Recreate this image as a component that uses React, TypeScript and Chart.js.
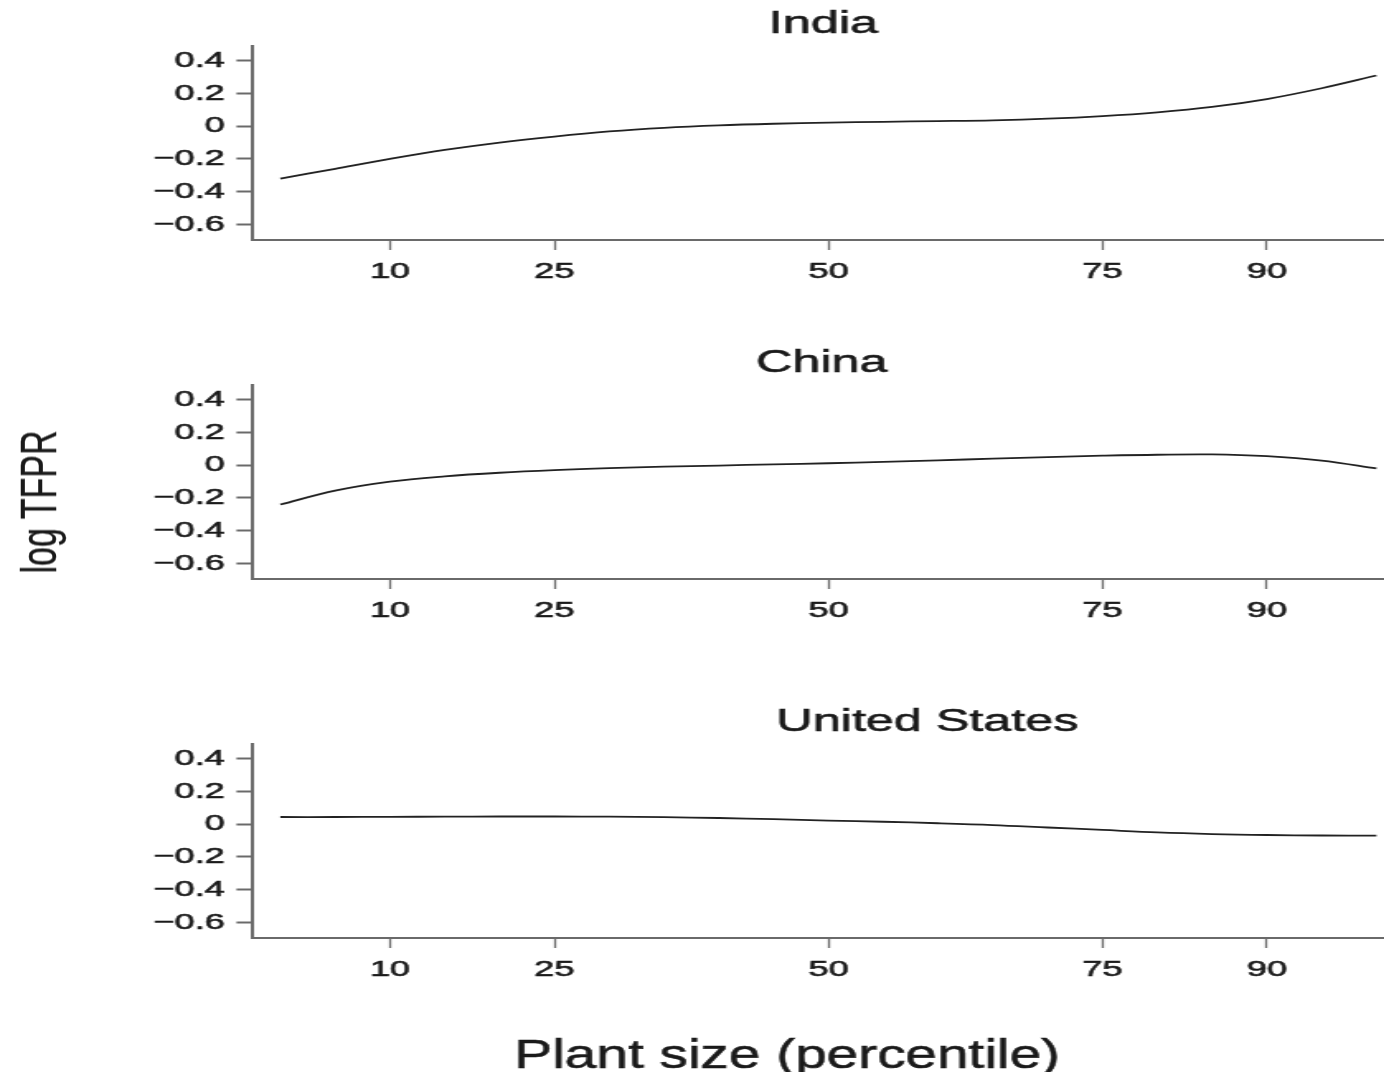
import React, { useEffect, useRef } from "react";
import { Chart, registerables } from "chart.js";

Chart.register(...registerables);

// ---------------- data ----------------
const percentiles = [0, 5, 10, 15, 20, 25, 30, 35, 40, 45, 50, 55, 60, 65, 70, 75, 80, 85, 90, 95, 100];

const india = [-0.32, -0.26, -0.2, -0.145, -0.1, -0.063, -0.032, -0.01, 0.005, 0.015, 0.022, 0.027, 0.031, 0.036, 0.046, 0.062, 0.085, 0.118, 0.166, 0.232, 0.31];
const china = [-0.24, -0.155, -0.1, -0.068, -0.046, -0.03, -0.018, -0.009, -0.002, 0.005, 0.012, 0.02, 0.03, 0.04, 0.05, 0.058, 0.064, 0.066, 0.055, 0.028, -0.02];
const unitedStates = [0.044, 0.044, 0.045, 0.046, 0.047, 0.047, 0.046, 0.043, 0.038, 0.031, 0.022, 0.015, 0.006, -0.005, -0.02, -0.035, -0.05, -0.06, -0.066, -0.069, -0.07];

const panelTitles = ["India", "China", "United States"];
const xTickValues = [10, 25, 50, 75, 90];
const xTickLabels = ["10", "25", "50", "75", "90"];
const yTickValues = [-0.6, -0.4, -0.2, 0, 0.2, 0.4];
const yTickLabels = ["\u22120.6", "\u22120.4", "\u22120.2", "0", "0.2", "0.4"];
const xTitle = "Plant size (percentile)";
const yTitle = "log TFPR";

// ---------------- layout ----------------
const S = 1.65; // horizontal stretch of the canvases (extended type look)
const CW = 845; // internal canvas width
const FAMILY = "'Liberation Sans', Arial, Helvetica, sans-serif";
const AXIS = "#6a6a6a";
const INK = "#1a1a1a";

type TextItem = { text: string; size: number; baseline: number; offsetX: number; scaleX: number };

function makeTextPlugin(items: TextItem[]) {
  return {
    id: "panelTexts",
    afterDraw(chart: any) {
      const { ctx, chartArea } = chart;
      const cx = (chartArea.left + chartArea.right) / 2;
      items.forEach((it) => {
        ctx.save();
        ctx.fillStyle = INK;
        ctx.strokeStyle = INK;
        ctx.lineWidth = 0.6;
        ctx.font = `${it.size}px ${FAMILY}`;
        ctx.textAlign = "center";
        ctx.textBaseline = "alphabetic";
        ctx.translate(cx + it.offsetX, it.baseline);
        ctx.scale(it.scaleX, 1);
        ctx.fillText(it.text, 0, 0);
        ctx.strokeText(it.text, 0, 0);
        ctx.restore();
      });
    },
  };
}

function Panel(props: { values: number[]; top: number; height: number; texts: TextItem[] }) {
  const ref = useRef<HTMLCanvasElement>(null);
  useEffect(() => {
    const canvas = ref.current;
    if (!canvas) return;
    const chart = new Chart(canvas, {
      type: "line",
      data: {
        datasets: [
          {
            data: percentiles.map((p, i) => ({ x: p, y: props.values[i] })),
            borderColor: "#222",
            borderWidth: 1.8,
            pointRadius: 0,
            tension: 0.35,
            fill: false,
          },
        ],
      },
      options: {
        animation: false,
        responsive: false,
        devicePixelRatio: 1,
        layout: { padding: { top: 46, left: 0, right: 0, bottom: 0 } },
        plugins: { legend: { display: false }, tooltip: { enabled: false }, title: { display: false } },
        scales: {
          x: {
            type: "linear",
            min: -2.497,
            max: 101.6,
            afterBuildTicks: (s: any) => {
              s.ticks = xTickValues.map((v) => ({ value: v }));
            },
            afterFit: (s: any) => {
              s.height = props.height - 240;
            },
            ticks: {
              callback: (_v: any, i: number) => xTickLabels[i],
              font: { size: 22, family: FAMILY },
              color: INK,
              textStrokeColor: INK,
              textStrokeWidth: 0.6,
              padding: 9,
              maxRotation: 0,
              autoSkip: false,
            },
            grid: { drawOnChartArea: false, drawTicks: true, tickLength: 10, tickColor: AXIS, tickWidth: 1.3 },
            border: { display: true, color: AXIS, width: 2 },
          },
          y: {
            type: "linear",
            min: -0.695,
            max: 0.49,
            afterBuildTicks: (s: any) => {
              s.ticks = yTickValues.map((v) => ({ value: v }));
            },
            afterFit: (s: any) => {
              s.width = 253 / S;
            },
            ticks: {
              callback: (_v: any, i: number) => yTickLabels[i],
              font: { size: 22, family: FAMILY },
              color: INK,
              textStrokeColor: INK,
              textStrokeWidth: 0.6,
              padding: 7,
              autoSkip: false,
            },
            grid: { drawOnChartArea: false, drawTicks: true, tickLength: 10, tickColor: AXIS, tickWidth: 2 },
            border: { display: true, color: AXIS, width: 2 },
          },
        },
      },
      plugins: [makeTextPlugin(props.texts)],
    } as any);
    return () => chart.destroy();
  }, []);
  return (
    <canvas
      ref={ref}
      width={CW}
      height={props.height}
      style={{ position: "absolute", left: 0, top: props.top, width: `${CW * S}px`, height: `${props.height}px` }}
    />
  );
}

export default function App() {
  const tops = [0, 339, 698];
  const heights = [300, 300, 374];
  const series = [india, china, unitedStates];
  const titleOffsets = [0, -1, 63];
  return (
    <div
      style={{
        position: "absolute",
        left: 0,
        top: 0,
        width: 1384,
        height: 1072,
        overflow: "hidden",
        background: "#fff",
      }}
    >
      {series.map((vals, i) => {
        const texts: TextItem[] = [
          { text: panelTitles[i], size: 30.5, baseline: 33, offsetX: titleOffsets[i], scaleX: 1 },
        ];
        if (i === 2) texts.push({ text: xTitle, size: 40, baseline: 370, offsetX: -22, scaleX: 0.86 });
        return <Panel key={i} values={vals} top={tops[i]} height={heights[i]} texts={texts} />;
      })}
      <span
        style={{
          position: "absolute",
          left: 39,
          top: 502,
          transform: "translate(-50%, -50%) rotate(-90deg) scaleX(0.68)",
          fontFamily: FAMILY,
          fontSize: 50,
          lineHeight: 1,
          color: INK,
          whiteSpace: "nowrap",
          WebkitTextStroke: "0.4px #1a1a1a",
        }}
      >
        {yTitle}
      </span>
    </div>
  );
}
